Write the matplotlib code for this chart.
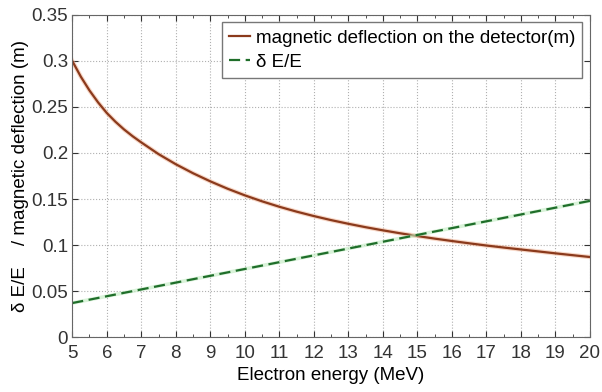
import numpy as np
import matplotlib.pyplot as plt
from matplotlib.ticker import MultipleLocator

plt.rcParams['font.family'] = ['Liberation Sans', 'DejaVu Sans']

# electron energy (MeV) and deflection on the detector (m)
energy = [5.0, 5.25, 5.5, 5.75, 6.0, 6.25, 6.5, 6.75, 7.0, 7.5, 8.0, 8.5,
          9.0, 9.5, 10.0, 10.5, 11.0, 11.5, 12.0, 12.5, 13.0, 13.5, 14.0,
          14.5, 15.0, 15.5, 16.0, 16.5, 17.0, 17.5, 18.0, 18.5, 19.0, 19.5,
          20.0]
deflection = [0.300, 0.2828, 0.2679, 0.2549, 0.2435, 0.2340, 0.2256, 0.2182,
              0.2115, 0.1988, 0.1878, 0.1780, 0.1692, 0.1612, 0.1540, 0.1475,
              0.1416, 0.1363, 0.1315, 0.1271, 0.1231, 0.1194, 0.1160, 0.1128,
              0.1098, 0.1070, 0.1044, 0.1019, 0.0995, 0.0973, 0.0952, 0.0931,
              0.0910, 0.0890, 0.0870]

# energy resolution
energy_res = [5, 10, 15, 20]
dE_over_E = [0.037, 0.074, 0.111, 0.148]

fig = plt.figure(figsize=(6.02, 3.92), dpi=100)
ax = fig.add_axes([0.12, 0.14, 0.86, 0.822])

ax.plot(energy, deflection, color='#f0b090', lw=3.2, alpha=0.5)
ax.plot(energy, deflection, color='#8b3a1c', lw=1.6,
        label='magnetic deflection on the detector(m)')
ax.plot(energy_res, dE_over_E, color='#c0ecc0', lw=2.6, alpha=0.6)
ax.plot(energy_res, dE_over_E, color='#1f6e2a', lw=1.6, ls=(0, (5, 2.5)),
        label='\u03b4 E/E')

ax.set_xlim(5, 20)
ax.set_ylim(0, 0.35)
ax.xaxis.set_major_locator(MultipleLocator(1))
ax.xaxis.set_minor_locator(MultipleLocator(0.5))
ax.set_yticks([0, 0.05, 0.1, 0.15, 0.2, 0.25, 0.3, 0.35])
ax.set_yticklabels(['0', '0.05', '0.1', '0.15', '0.2', '0.25', '0.3', '0.35'])
ax.tick_params(which='both', direction='in', top=True, right=True,
               labelsize=13.5, colors='#333333')
ax.tick_params(axis='x', pad=6)
ax.tick_params(axis='y', pad=3)
ax.tick_params(which='major', length=4)
ax.tick_params(which='minor', length=2)
ax.grid(True, which='major', ls=':', color='#b0b0b0', lw=0.8)
for s in ax.spines.values():
    s.set_color('#666666')

ax.set_xlabel('Electron energy (MeV)', fontsize=13.5, labelpad=3)
ax.set_ylabel('\u03b4 E/E    / magnetic deflection (m)', fontsize=13.5,
              labelpad=2)

leg = ax.legend(loc='upper right', fontsize=13.5, handlelength=1.1,
                handletextpad=0.3, borderpad=0.4, labelspacing=0.35,
                borderaxespad=0.4, fancybox=False, framealpha=1,
                edgecolor='#777777')

fig.savefig('out.png', dpi=100)
